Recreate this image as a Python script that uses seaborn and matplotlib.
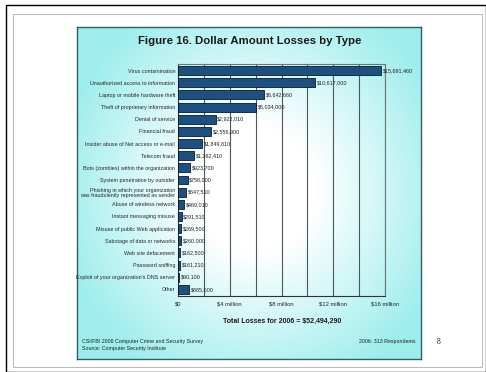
import numpy as np
import matplotlib
matplotlib.use("Agg")
import matplotlib.pyplot as plt
from matplotlib.patches import Rectangle
import seaborn as sns
import pandas as pd

categories = [
    "Virus contamination",
    "Unauthorized access to information",
    "Laptop or mobile hardware theft",
    "Theft of proprietary information",
    "Denial of service",
    "Financial fraud",
    "Insider abuse of Net access or e-mail",
    "Telecom fraud",
    "Bots (zombies) within the organization",
    "System penetration by outsider",
    "Phishing in which your organization\nwas fraudulently represented as sender",
    "Abuse of wireless network",
    "Instant messaging misuse",
    "Misuse of public Web application",
    "Sabotage of data or networks",
    "Web site defacement",
    "Password sniffing",
    "Exploit of your organization's DNS server",
    "Other",
]
losses = [15691460, 10617000, 6642660, 6034000, 2922010, 2556900, 1849810,
          1262410, 923700, 758000, 647510, 469010, 291510, 269500, 260000,
          162500, 161210, 90100, 885000]
tick_values = [0, 4e6, 8e6, 12e6, 16e6]
tick_labels = ["$0", "$4 million", "$8 million", "$12 million", "$16 million"]

df = pd.DataFrame({"category": categories, "loss": losses})

sns.set_theme(style="white")
plt.rcParams['font.family'] = ['Liberation Sans', 'DejaVu Sans']

W, H = 486, 372
fig = plt.figure(figsize=(W / 100, H / 100), dpi=100)
fig.patch.set_facecolor("white")

def fx(px):
    return px / W

def fy(py):
    return 1 - py / H

# page frames
fig.patches.append(Rectangle((fx(6), fy(372)), fx(486) - fx(6), fy(5) - fy(372),
                             transform=fig.transFigure, fill=False, edgecolor="black", lw=1.0))
fig.patches.append(Rectangle((fx(13), fy(367)), fx(482) - fx(13), fy(14) - fy(367),
                             transform=fig.transFigure, fill=False, edgecolor="#bbbbbb", lw=0.8))

# cyan panel with radial gradient
px0, px1, py0, py1 = 77, 421, 27, 359
bg = fig.add_axes([fx(px0), fy(py1), fx(px1) - fx(px0), fy(py0) - fy(py1)])
gx = np.linspace(px0, px1, 300)
gy = np.linspace(py0, py1, 300)
GX, GY = np.meshgrid(gx, gy)
r = np.sqrt(((GX - 255) / 1.0) ** 2 + ((GY - 190) / 1.05) ** 2)
t = np.clip((r - 60) / 140, 0, 1)
edge = np.array([0.62, 0.93, 0.93])
img = (1 - t[..., None]) * np.array([1, 1, 1]) + t[..., None] * edge
bg.imshow(img, extent=[0, 1, 0, 1], aspect="auto", origin="upper")
bg.set_xticks([]); bg.set_yticks([])
for s in bg.spines.values():
    s.set_edgecolor("#2f5f66"); s.set_linewidth(1.0)
bg.set_zorder(0)

# main bar axes
ax = fig.add_axes([fx(178), fy(296), fx(385) - fx(178), fy(64) - fy(296)])
ax.patch.set_alpha(0)
ax.set_zorder(1)
sns.barplot(data=df, x="loss", y="category", orient="h", color="#0d5190",
            edgecolor="#0a1a2a", linewidth=0.6, width=0.74, ax=ax, zorder=3)
ax.set_xlim(0, 16e6)
ax.set_ylim(18.55, -0.55)
for v in np.arange(2e6, 16.1e6, 2e6):
    ax.axvline(v, color="#4a5858", lw=0.8, zorder=1)
ax.set_xticks(tick_values)
ax.set_xticklabels(tick_labels, fontsize=4.2)
ax.tick_params(axis="y", labelsize=3.9, length=0, pad=2)
ax.tick_params(axis="x", length=0, pad=4)
for lab in ax.get_yticklabels():
    lab.set_linespacing(1.15)
ax.set_xlabel("")
ax.set_ylabel("")
for name, s in ax.spines.items():
    s.set_edgecolor("#333333" if name in ("left", "bottom") else "#6a7878")
    s.set_linewidth(0.8)
    s.set_visible(True)

for i, v in enumerate(losses):
    ax.text(v + 0.12e6, i, f"${v:,}", va="center", ha="left", fontsize=3.9, color="#222222")

fig.text(fx(250), fy(41), "Figure 16. Dollar Amount Losses by Type", ha="center", va="center",
         fontsize=8.2, fontweight="bold", color="#1a1a1a")
fig.text(fx(282), fy(321), "Total Losses for 2006 = $52,494,290", ha="center", va="center",
         fontsize=5.0, fontweight="bold", color="#1a1a1a")
fig.text(fx(82), fy(341), "CSI/FBI 2006 Computer Crime and Security Survey", ha="left", va="center",
         fontsize=3.8, color="#222222")
fig.text(fx(82), fy(348.5), "Source: Computer Security Institute", ha="left", va="center",
         fontsize=3.8, color="#222222")
fig.text(fx(415), fy(341), "2006: 313 Respondents", ha="right", va="center",
         fontsize=3.8, color="#222222")
fig.text(fx(439), fy(342), "8", ha="center", va="center", fontsize=5.5,
         family=["Liberation Serif", "DejaVu Serif"], color="#222222")

fig.savefig("out.png", dpi=100)
